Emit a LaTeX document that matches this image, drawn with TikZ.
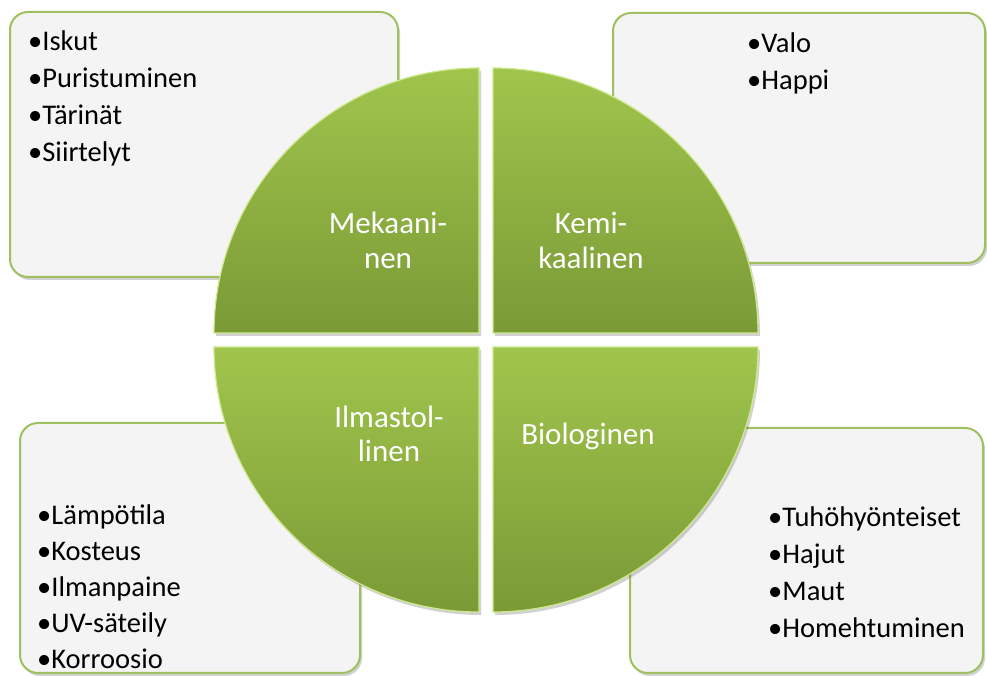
\documentclass[tikz,border=0pt]{standalone}
\usepackage{fontspec}
\setmainfont{Carlito}
\usetikzlibrary{positioning,shadows}
\definecolor{boxfill}{RGB}{244,244,244}
\definecolor{boxline}{RGB}{160,192,95}
\definecolor{quadtop}{RGB}{160,197,77}
\definecolor{quadbot}{RGB}{122,154,54}
\definecolor{quadedge}{RGB}{206,232,140}
\newcommand{\listfont}{\fontsize{28.5}{34}\selectfont}
\newcommand{\segfont}{\fontsize{31}{36}\selectfont}

\begin{document}
\begin{tikzpicture}[x=1pt, y=1pt,
  listbox/.style={draw=boxline, line width=2pt, fill=boxfill, rounded corners=18pt, inner sep=0pt,
    drop shadow={shadow xshift=2pt, shadow yshift=-3pt, opacity=0.3, fill=black!60}},
  quad/.style={top color=quadtop, bottom color=quadbot, draw=quadedge, line width=1.2pt,
    drop shadow={shadow xshift=2pt, shadow yshift=-3pt, opacity=0.3, fill=black!60}},
  item/.style={anchor=base west, inner sep=0pt, font=\listfont, text=black},
  seglabel/.style={anchor=base, inner sep=0pt, font=\segfont, text=white}]
\useasboundingbox (0,0) rectangle (987,676);

% the four list boxes behind the circle
\node[listbox, minimum width=388, minimum height=265] (mekbox) at (204,531.5) {};
\node[listbox, minimum width=372, minimum height=250] (kembox) at (799,538) {};
\node[listbox, minimum width=340, minimum height=250] (ilmbox) at (190,128) {};
\node[listbox, minimum width=353, minimum height=245] (biobox) at (806.5,125.5) {};

% the circle, split into four quarters
\path[quad] (479,343) -- ++(-265,0) arc[start angle=180, end angle=90, radius=265] -- cycle;
\path[quad] (493,343) -- ++(0,265) arc[start angle=90, end angle=0, radius=265] -- cycle;
\path[quad] (479,329) -- ++(-265,0) arc[start angle=180, end angle=270, radius=265] -- cycle;
\path[quad] (493,329) -- ++(0,-265) arc[start angle=270, end angle=360, radius=265] -- cycle;

\node[seglabel] (mek1) at (388,442) {Mekaani-};
\node[seglabel] (mek2) at (388,407) {nen};
\node[seglabel] (kem1) at (591,442) {Kemi-};
\node[seglabel] (kem2) at (591,407) {kaalinen};
\node[seglabel] (ilm1) at (389,248) {Ilmastol-};
\node[seglabel] (ilm2) at (389,214) {linen};
\node[seglabel] (bio1) at (588,231) {Biologinen};

% list items
\foreach \txt [count=\i] in {Iskut, Puristuminen, Tärinät, Siirtelyt}
  \node[item] (mek\i item) at (28,625-37*\i+37) {•\txt};
\foreach \txt [count=\i] in {Valo, Happi}
  \node[item] (kem\i item) at (747,623-37*\i+37) {•\txt};
\foreach \txt [count=\i] in {Lämpötila, Kosteus, Ilmanpaine, UV-säteily, Korroosio}
  \node[item] (ilm\i item) at (37,151-36*\i+36) {•\txt};
\foreach \txt [count=\i] in {Tuhöhyönteiset, Hajut, Maut, Homehtuminen}
  \node[item] (bio\i item) at (768,149-37*\i+37) {•\txt};
\end{tikzpicture}
\end{document}
